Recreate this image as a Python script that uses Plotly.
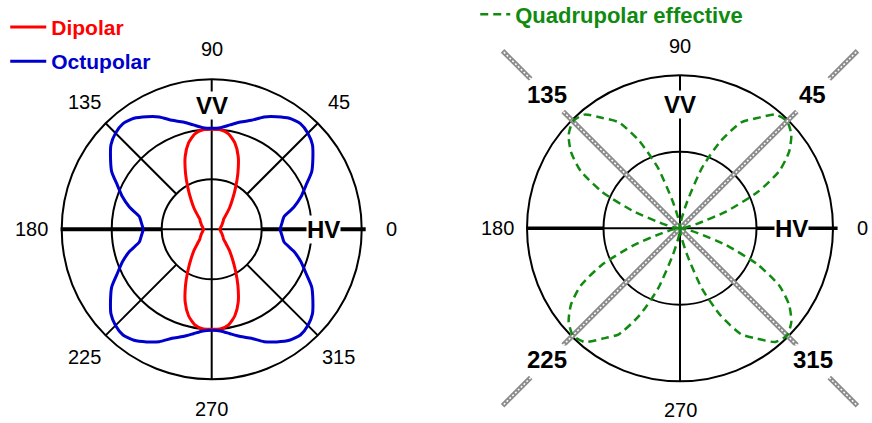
import numpy as np
import plotly.graph_objects as go

FONT = "Arial, Liberation Sans, sans-serif"

# one quadrant of angles (deg); the patterns are mirror symmetric about HV and VV
theta_q = list(range(0, 91, 5))

# left panel, radial units (rings at 1, 2, 3)
dipolar = [0.16, 0.17, 0.18, 0.19, 0.21, 0.23, 0.25, 0.28, 0.31, 0.40,
           0.55, 0.72, 0.95, 1.24, 1.55, 1.79, 1.94, 2.00, 2.00]
octupolar = [1.37, 1.41, 1.47, 1.70, 1.90, 2.08, 2.31, 2.47, 2.63, 2.72,
             2.76, 2.71, 2.60, 2.48, 2.32, 2.22, 2.12, 2.04, 2.02]

# right panel, radial units (rings at 0.5, 1)
quad_eff = [0.00, 0.02, 0.05, 0.12, 0.32, 0.56, 0.75, 0.87, 0.95, 0.99,
            0.97, 0.88, 0.80, 0.63, 0.42, 0.18, 0.07, 0.03, 0.00]

label_angles = [0, 45, 90, 135, 180, 225, 270, 315]
angle_labels = ["0", "45", "90", "135", "180", "225", "270", "315"]
left_rings = [1, 2, 3]
right_rings = [0.5, 1]


def mirror(vals):
    # quadrant -> full turn, then to x/y
    ang = np.arange(0, 361, 5)
    a = ang % 180
    a = np.where(a > 90, 180 - a, a)
    r = np.array(vals)[a // 5]
    t = np.radians(ang)
    return r * np.cos(t), r * np.sin(t)


def seg(ax, ay, r0, r1, ang, color="black", width=2, dash=None):
    t = np.radians(ang)
    return dict(type="line", xref=ax, yref=ay, layer="below",
                x0=r0 * np.cos(t), y0=r0 * np.sin(t),
                x1=r1 * np.cos(t), y1=r1 * np.sin(t),
                line=dict(color=color, width=width, dash=dash))


def ring(ax, ay, r, width=2):
    return dict(type="circle", xref=ax, yref=ay, layer="below",
                x0=-r, y0=-r, x1=r, y1=r,
                line=dict(color="black", width=width))


def label(ax, ay, x, y, text, size=20, bold=False, bg=None):
    return dict(xref=ax, yref=ay, x=x, y=y, text=f"<b>{text}</b>" if bold else text,
                showarrow=False, font=dict(family=FONT, size=size, color="black"),
                bgcolor=bg, borderpad=0)


fig = go.Figure()

x, y = mirror(dipolar)
fig.add_trace(go.Scatter(
    x=x, y=y, mode="lines", xaxis="x", yaxis="y",
    line=dict(color="#ff0000", width=3, shape="spline", smoothing=0.6),
    name='<b><span style="color:#ff0000">Dipolar</span></b>',
    legend="legend", legendgroup="dip"))

x, y = mirror(octupolar)
fig.add_trace(go.Scatter(
    x=x, y=y, mode="lines", xaxis="x", yaxis="y",
    line=dict(color="#0000cc", width=3, shape="spline", smoothing=0.6),
    name='<b><span style="color:#0000cc">Octupolar</span></b>',
    legend="legend", legendgroup="oct"))

x, y = mirror(quad_eff)
fig.add_trace(go.Scatter(
    x=x, y=y, mode="lines", xaxis="x2", yaxis="y2",
    line=dict(color="#108a10", width=2.5, dash="8px,5px", shape="spline", smoothing=0.6),
    name='<b><span style="color:#108a10">Quadrupolar effective</span></b>',
    legend="legend2"))

# 🔹 grid, left panel
shapes = [ring("x", "y", r) for r in left_rings]
shapes += [seg("x", "y", -3, 3, 90), seg("x", "y", -3, 3, 0),
           seg("x", "y", 1, 3.08, 0, width=4), seg("x", "y", 1, 3.02, 180, width=4)]
shapes += [seg("x", "y", 1, 3, a) for a in [45, 135, 225, 315]]

# 🔹 grid, right panel
shapes += [ring("x2", "y2", r) for r in right_rings]
shapes += [seg("x2", "y2", -1, 1, 90), seg("x2", "y2", -1, 1, 0),
           seg("x2", "y2", 0.5, 1.03, 0, width=3.5), seg("x2", "y2", 0.5, 1.0, 180, width=3.5)]
for a in [45, 135]:
    shapes.append(seg("x2", "y2", -1.08, 1.08, a, color="#8c8c8c", width=5))
    shapes.append(seg("x2", "y2", -1.08, 1.08, a, color="white", width=1.5, dash="2px,2px"))
for a in [45, 135, 225, 315]:
    shapes.append(seg("x2", "y2", 1.38, 1.64, a, color="#8c8c8c", width=5))
    shapes.append(seg("x2", "y2", 1.38, 1.64, a, color="white", width=1.5, dash="2px,2px"))

# 🔹 labels
annotations = []
for a, txt in zip(label_angles, angle_labels):
    t = np.radians(a)
    annotations.append(label("x", "y", 3.6 * np.cos(t), 3.6 * np.sin(t), txt))
    if a % 90 == 0:
        annotations.append(label("x2", "y2", 1.19 * np.cos(t), 1.19 * np.sin(t), txt))
    else:
        annotations.append(label("x2", "y2", 1.225 * np.cos(t), 1.225 * np.sin(t) + 0.01, txt,
                                 size=24, bold=True, bg="white"))
annotations += [label("x", "y", 0, 2.48, "VV", size=24, bold=True, bg="white"),
                label("x", "y", 2.24, 0, "HV", size=24, bold=True, bg="white"),
                label("x2", "y2", 0, 0.806, "VV", size=24, bold=True, bg="white"),
                label("x2", "y2", 0.73, 0, "HV", size=24, bold=True, bg="white")]

hidden = dict(visible=False, showgrid=False, zeroline=False, fixedrange=True)

fig.update_layout(
    width=872, height=423,
    margin=dict(l=0, r=0, t=0, b=0, autoexpand=False),
    plot_bgcolor="white", paper_bgcolor="white",
    xaxis=dict(domain=[0, 0.5], range=[-211.7 / 50, 224.3 / 50], anchor="y", **hidden),
    yaxis=dict(domain=[0, 1], range=[-193.7 / 50, 229.3 / 50], anchor="x", **hidden),
    xaxis2=dict(domain=[0.5, 1], range=[-244 / 153, 192 / 153], anchor="y2", **hidden),
    yaxis2=dict(domain=[0, 1], range=[-194.7 / 153, 228.3 / 153], anchor="x2", **hidden),
    shapes=shapes,
    annotations=annotations,
    legend=dict(x=0.006, y=0.984, xanchor="left", yanchor="top", bgcolor="rgba(0,0,0,0)",
                font=dict(family=FONT, size=21), tracegroupgap=4, itemwidth=36),
    legend2=dict(x=0.545, y=1.0155, xanchor="left", yanchor="top", bgcolor="rgba(0,0,0,0)",
                 font=dict(family=FONT, size=22), itemwidth=30),
    showlegend=True,
)

fig.write_html("out.html", config={"displayModeBar": False},
               post_script="document.body.style.margin='0';")
